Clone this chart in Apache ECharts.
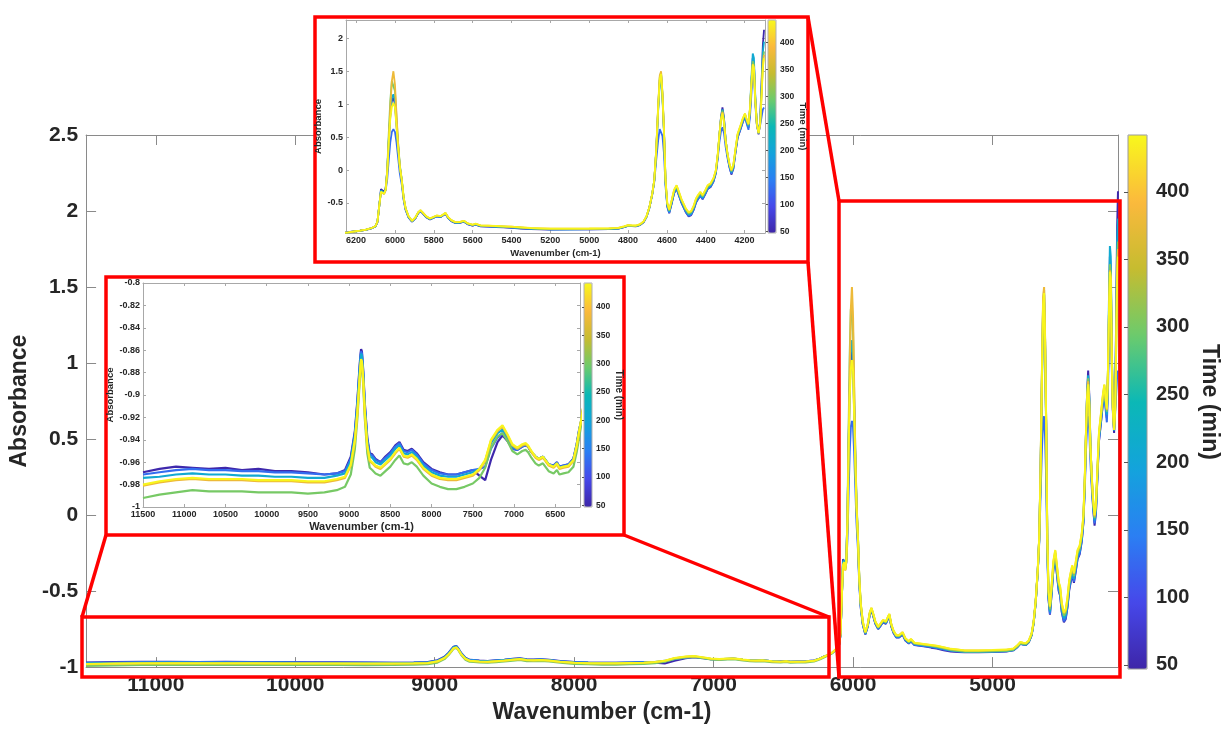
<!DOCTYPE html>
<html>
<head>
<meta charset="utf-8">
<script src="https://cdn.jsdelivr.net/npm/echarts@6/dist/echarts.min.js"></script>
<style>
  html, body { margin: 0; padding: 0; background: #fff; }
  #chart { width: 1223px; height: 729px; }
</style>
</head>
<body>
<div id="chart"></div>
<script>
// Wavenumber grid (cm-1), shared by every spectrum
const wavenumber = [
  11500, 11300, 11100, 10900, 10700, 10500, 10300, 10100, 9900, 9700,
  9500, 9300, 9150, 9050, 8980, 8930, 8900, 8880, 8865, 8855,
  8845, 8830, 8810, 8780, 8750, 8720, 8680, 8620, 8560, 8500,
  8440, 8390, 8340, 8290, 8240, 8180, 8100, 8000, 7900, 7800,
  7700, 7600, 7500, 7420, 7350, 7280, 7200, 7140, 7080, 7020,
  6960, 6900, 6860, 6830, 6790, 6740, 6700, 6650, 6580, 6520,
  6480, 6450, 6400, 6340, 6280, 6240, 6210,
  6180, 6150, 6120, 6100, 6090, 6080, 6072, 6064, 6056, 6048,
  6040, 6032, 6024, 6016, 6008, 6000, 5992, 5984, 5975, 5965,
  5955, 5945, 5930, 5912, 5895, 5880, 5868, 5855, 5840, 5820,
  5800, 5785, 5765, 5740, 5725, 5710, 5690, 5670, 5645, 5625,
  5600, 5585, 5560, 5520, 5480, 5440, 5400, 5350, 5300, 5250,
  5200, 5100, 5000, 4900, 4850, 4820, 4800, 4780, 4760, 4740,
  4720, 4705, 4690, 4675, 4665, 4655, 4645, 4637, 4630, 4623,
  4615, 4607, 4598, 4588, 4575, 4563, 4550, 4538, 4525, 4515,
  4503, 4488, 4475, 4462, 4450, 4440, 4428, 4416, 4402, 4390,
  4375, 4360, 4348, 4338, 4330, 4322, 4314, 4306, 4298, 4288,
  4278, 4268, 4258, 4248, 4236, 4222, 4210, 4198, 4188, 4180,
  4172, 4165, 4158, 4152, 4145, 4137, 4128, 4120, 4113, 4106,
  4100
];

// Absorbance spectra, one per acquisition time
const absorbance_t50 = [
  -0.969, -0.966, -0.964, -0.965, -0.966, -0.965, -0.967, -0.966, -0.968, -0.968,
  -0.969, -0.971, -0.970, -0.967, -0.955, -0.932, -0.905, -0.882, -0.866, -0.859,
  -0.861, -0.877, -0.907, -0.938, -0.952, -0.953, -0.957, -0.960, -0.955, -0.951,
  -0.945, -0.942, -0.949, -0.950, -0.948, -0.952, -0.960, -0.966, -0.969, -0.971,
  -0.971, -0.969, -0.967, -0.972, -0.976, -0.958, -0.942, -0.936, -0.941, -0.948,
  -0.949, -0.946, -0.945, -0.946, -0.951, -0.955, -0.957, -0.955, -0.962, -0.963,
  -0.960, -0.964, -0.963, -0.962, -0.957, -0.944, -0.931,
  -0.922, -0.908, -0.884, -0.856, -0.790, -0.520, -0.290, -0.280, -0.330, -0.280,
  -0.020, 0.420, 0.820, 1.050, 1.100, 1.000, 0.680, 0.360, 0.040, -0.170,
  -0.440, -0.600, -0.720, -0.785, -0.735, -0.655, -0.625, -0.665, -0.715, -0.750,
  -0.725, -0.705, -0.715, -0.665, -0.735, -0.775, -0.805, -0.805, -0.785, -0.825,
  -0.845, -0.830, -0.855, -0.860, -0.865, -0.872, -0.878, -0.890, -0.898, -0.900,
  -0.903, -0.902, -0.900, -0.897, -0.890, -0.867, -0.847, -0.852, -0.854, -0.837,
  -0.792, -0.712, -0.572, -0.362, -0.160, 0.280, 0.930, 1.360, 1.450, 1.140,
  0.580, -0.190, -0.550, -0.655, -0.505, -0.355, -0.285, -0.390, -0.500, -0.530,
  -0.640, -0.705, -0.685, -0.605, -0.495, -0.445, -0.395, -0.445, -0.365, -0.290,
  -0.258, -0.175, -0.050, 0.210, 0.510, 0.790, 0.950, 0.790, 0.470, 0.220,
  0.050, -0.070, 0.015, 0.240, 0.490, 0.610, 0.720, 0.820, 0.710, 0.640,
  0.900, 1.300, 1.700, 1.620, 1.080, 0.700, 0.540, 0.750, 1.300, 1.900,
  2.130
];
const absorbance_t130 = [
  -0.971, -0.969, -0.967, -0.966, -0.967, -0.967, -0.968, -0.968, -0.969, -0.969,
  -0.970, -0.971, -0.970, -0.968, -0.957, -0.934, -0.907, -0.884, -0.868, -0.861,
  -0.863, -0.879, -0.909, -0.940, -0.953, -0.954, -0.958, -0.960, -0.956, -0.952,
  -0.946, -0.943, -0.950, -0.951, -0.949, -0.953, -0.961, -0.967, -0.970, -0.971,
  -0.971, -0.969, -0.967, -0.966, -0.964, -0.948, -0.938, -0.934, -0.940, -0.948,
  -0.949, -0.946, -0.945, -0.946, -0.951, -0.955, -0.957, -0.955, -0.962, -0.963,
  -0.960, -0.964, -0.963, -0.962, -0.957, -0.944, -0.931,
  -0.921, -0.907, -0.883, -0.854, -0.786, -0.525, -0.320, -0.300, -0.350, -0.310,
  -0.150, 0.150, 0.420, 0.580, 0.620, 0.580, 0.420, 0.200, -0.050, -0.220,
  -0.460, -0.610, -0.720, -0.783, -0.733, -0.653, -0.623, -0.663, -0.713, -0.748,
  -0.723, -0.703, -0.713, -0.663, -0.733, -0.773, -0.803, -0.803, -0.783, -0.823,
  -0.843, -0.828, -0.853, -0.858, -0.863, -0.868, -0.874, -0.884, -0.893, -0.897,
  -0.901, -0.901, -0.899, -0.896, -0.889, -0.866, -0.846, -0.851, -0.853, -0.836,
  -0.791, -0.711, -0.571, -0.361, -0.180, 0.150, 0.450, 0.620, 0.650, 0.520,
  0.250, -0.250, -0.560, -0.650, -0.500, -0.350, -0.280, -0.385, -0.495, -0.525,
  -0.635, -0.698, -0.678, -0.598, -0.488, -0.438, -0.388, -0.438, -0.358, -0.284,
  -0.252, -0.170, -0.046, 0.180, 0.420, 0.580, 0.650, 0.560, 0.360, 0.180,
  0.040, -0.055, 0.025, 0.245, 0.495, 0.615, 0.725, 0.800, 0.690, 0.610,
  0.820, 1.150, 1.550, 1.480, 1.000, 0.680, 0.560, 0.680, 0.800, 0.920,
  0.950
];
const absorbance_t210 = [
  -0.974, -0.973, -0.971, -0.970, -0.971, -0.971, -0.972, -0.972, -0.973, -0.973,
  -0.974, -0.974, -0.972, -0.970, -0.959, -0.936, -0.909, -0.886, -0.870, -0.863,
  -0.865, -0.881, -0.911, -0.942, -0.955, -0.956, -0.960, -0.962, -0.958, -0.954,
  -0.948, -0.945, -0.952, -0.953, -0.951, -0.955, -0.963, -0.969, -0.972, -0.973,
  -0.973, -0.971, -0.969, -0.966, -0.959, -0.943, -0.934, -0.931, -0.938, -0.946,
  -0.948, -0.945, -0.944, -0.946, -0.951, -0.955, -0.957, -0.955, -0.962, -0.964,
  -0.961, -0.965, -0.964, -0.963, -0.958, -0.945, -0.932,
  -0.921, -0.906, -0.882, -0.853, -0.784, -0.522, -0.310, -0.295, -0.345, -0.290,
  -0.030, 0.450, 0.850, 1.100, 1.150, 1.050, 0.720, 0.380, 0.060, -0.150,
  -0.430, -0.590, -0.712, -0.778, -0.728, -0.648, -0.618, -0.658, -0.708, -0.743,
  -0.718, -0.698, -0.708, -0.658, -0.728, -0.768, -0.798, -0.798, -0.778, -0.818,
  -0.838, -0.823, -0.848, -0.853, -0.858, -0.863, -0.869, -0.879, -0.889, -0.894,
  -0.899, -0.899, -0.897, -0.894, -0.887, -0.864, -0.844, -0.849, -0.851, -0.834,
  -0.789, -0.709, -0.569, -0.359, -0.160, 0.280, 0.900, 1.320, 1.400, 1.100,
  0.560, -0.180, -0.535, -0.635, -0.485, -0.335, -0.265, -0.367, -0.477, -0.507,
  -0.617, -0.679, -0.659, -0.579, -0.469, -0.419, -0.369, -0.419, -0.339, -0.266,
  -0.235, -0.153, -0.030, 0.225, 0.515, 0.780, 0.920, 0.770, 0.470, 0.230,
  0.065, -0.035, 0.045, 0.265, 0.515, 0.635, 0.745, 0.835, 0.725, 0.660,
  0.930, 1.400, 1.770, 1.700, 1.120, 0.720, 0.555, 0.730, 1.250, 1.800,
  1.950
];
const absorbance_t300 = [
  -0.992, -0.989, -0.987, -0.985, -0.986, -0.986, -0.986, -0.987, -0.987, -0.987,
  -0.988, -0.987, -0.985, -0.982, -0.971, -0.948, -0.921, -0.898, -0.880, -0.872,
  -0.874, -0.890, -0.921, -0.952, -0.965, -0.967, -0.970, -0.972, -0.968, -0.964,
  -0.958, -0.954, -0.961, -0.962, -0.960, -0.964, -0.972, -0.979, -0.982, -0.984,
  -0.984, -0.982, -0.979, -0.974, -0.965, -0.947, -0.937, -0.934, -0.941, -0.950,
  -0.953, -0.950, -0.949, -0.951, -0.956, -0.961, -0.963, -0.961, -0.968, -0.970,
  -0.967, -0.971, -0.970, -0.969, -0.964, -0.951, -0.938,
  -0.924, -0.909, -0.884, -0.855, -0.785, -0.525, -0.330, -0.310, -0.360, -0.300,
  0.000, 0.550, 1.050, 1.350, 1.380, 1.200, 0.800, 0.420, 0.080, -0.140,
  -0.420, -0.585, -0.708, -0.775, -0.725, -0.645, -0.615, -0.655, -0.705, -0.740,
  -0.715, -0.695, -0.705, -0.655, -0.725, -0.765, -0.795, -0.795, -0.775, -0.815,
  -0.835, -0.820, -0.845, -0.850, -0.855, -0.860, -0.866, -0.876, -0.887, -0.893,
  -0.898, -0.898, -0.896, -0.893, -0.886, -0.863, -0.843, -0.848, -0.850, -0.833,
  -0.788, -0.708, -0.568, -0.358, -0.155, 0.310, 0.960, 1.400, 1.480, 1.160,
  0.600, -0.160, -0.520, -0.620, -0.470, -0.320, -0.250, -0.350, -0.460, -0.490,
  -0.600, -0.662, -0.642, -0.562, -0.452, -0.402, -0.352, -0.402, -0.322, -0.250,
  -0.220, -0.139, -0.017, 0.235, 0.520, 0.775, 0.900, 0.750, 0.465, 0.240,
  0.080, -0.020, 0.060, 0.280, 0.530, 0.650, 0.760, 0.845, 0.740, 0.680,
  0.940, 1.330, 1.650, 1.600, 1.070, 0.705, 0.560, 0.710, 1.150, 1.650,
  1.800
];
const absorbance_t380 = [
  -0.981, -0.978, -0.976, -0.975, -0.976, -0.976, -0.976, -0.977, -0.977, -0.977,
  -0.978, -0.978, -0.976, -0.974, -0.963, -0.941, -0.916, -0.894, -0.877, -0.869,
  -0.871, -0.886, -0.916, -0.946, -0.959, -0.961, -0.964, -0.966, -0.962, -0.958,
  -0.952, -0.948, -0.955, -0.956, -0.954, -0.958, -0.966, -0.972, -0.975, -0.976,
  -0.976, -0.974, -0.972, -0.967, -0.959, -0.941, -0.932, -0.928, -0.936, -0.945,
  -0.948, -0.945, -0.944, -0.946, -0.951, -0.956, -0.958, -0.956, -0.963, -0.965,
  -0.962, -0.966, -0.965, -0.964, -0.959, -0.946, -0.933,
  -0.920, -0.905, -0.880, -0.850, -0.780, -0.520, -0.335, -0.315, -0.365, -0.305,
  -0.040, 0.450, 0.950, 1.350, 1.500, 1.300, 0.850, 0.420, 0.060, -0.150,
  -0.420, -0.580, -0.702, -0.771, -0.721, -0.641, -0.611, -0.651, -0.701, -0.736,
  -0.711, -0.691, -0.701, -0.651, -0.721, -0.761, -0.791, -0.791, -0.771, -0.811,
  -0.831, -0.816, -0.841, -0.846, -0.851, -0.856, -0.861, -0.871, -0.881, -0.886,
  -0.891, -0.891, -0.889, -0.886, -0.879, -0.856, -0.836, -0.841, -0.843, -0.826,
  -0.781, -0.701, -0.561, -0.351, -0.150, 0.310, 0.980, 1.430, 1.500, 1.180,
  0.610, -0.150, -0.505, -0.605, -0.455, -0.305, -0.235, -0.335, -0.445, -0.475,
  -0.585, -0.646, -0.626, -0.546, -0.436, -0.386, -0.336, -0.386, -0.306, -0.236,
  -0.206, -0.126, -0.005, 0.245, 0.525, 0.770, 0.880, 0.735, 0.455, 0.245,
  0.093, -0.008, 0.073, 0.292, 0.543, 0.663, 0.773, 0.855, 0.752, 0.692,
  0.945, 1.310, 1.610, 1.560, 1.055, 0.700, 0.560, 0.705, 1.120, 1.600,
  1.750
];
const absorbance_t440 = [
  -0.980, -0.977, -0.975, -0.974, -0.975, -0.975, -0.975, -0.976, -0.976, -0.976,
  -0.977, -0.977, -0.975, -0.973, -0.962, -0.940, -0.915, -0.893, -0.876, -0.868,
  -0.870, -0.885, -0.915, -0.945, -0.958, -0.960, -0.963, -0.965, -0.961, -0.957,
  -0.951, -0.947, -0.954, -0.955, -0.953, -0.957, -0.965, -0.971, -0.974, -0.975,
  -0.975, -0.973, -0.971, -0.966, -0.958, -0.940, -0.931, -0.927, -0.935, -0.944,
  -0.947, -0.944, -0.943, -0.945, -0.950, -0.955, -0.957, -0.955, -0.962, -0.964,
  -0.961, -0.965, -0.964, -0.963, -0.958, -0.945, -0.932,
  -0.920, -0.905, -0.880, -0.850, -0.780, -0.520, -0.330, -0.310, -0.360, -0.300,
  -0.050, 0.400, 0.780, 0.960, 1.020, 0.950, 0.650, 0.350, 0.050, -0.150,
  -0.420, -0.580, -0.700, -0.770, -0.720, -0.640, -0.610, -0.650, -0.700, -0.735,
  -0.710, -0.690, -0.700, -0.650, -0.720, -0.760, -0.790, -0.790, -0.770, -0.810,
  -0.830, -0.815, -0.840, -0.845, -0.850, -0.855, -0.860, -0.870, -0.880, -0.885,
  -0.890, -0.890, -0.888, -0.885, -0.878, -0.855, -0.835, -0.840, -0.842, -0.825,
  -0.780, -0.700, -0.560, -0.350, -0.150, 0.300, 0.950, 1.380, 1.460, 1.150,
  0.600, -0.150, -0.500, -0.600, -0.450, -0.300, -0.230, -0.330, -0.440, -0.470,
  -0.580, -0.640, -0.620, -0.540, -0.430, -0.380, -0.330, -0.380, -0.300, -0.230,
  -0.200, -0.120, 0.000, 0.250, 0.530, 0.760, 0.860, 0.720, 0.450, 0.250,
  0.100, 0.000, 0.080, 0.300, 0.550, 0.670, 0.780, 0.860, 0.760, 0.700,
  0.950, 1.300, 1.600, 1.550, 1.050, 0.700, 0.560, 0.700, 1.100, 1.550,
  1.700
];

const times = [50, 130, 210, 300, 380, 440];
const spectra = [absorbance_t50, absorbance_t130, absorbance_t210,
                 absorbance_t300, absorbance_t380, absorbance_t440];
const timeRange = [47, 442];

// Tick labels
const mainXTicks = [11000, 10000, 9000, 8000, 7000, 6000, 5000];
const nirXTicks = [11500, 11000, 10500, 10000, 9500, 9000, 8500, 8000, 7500, 7000, 6500];
const midXTicks = [6200, 6000, 5800, 5600, 5400, 5200, 5000, 4800, 4600, 4400, 4200];
const midYTicks = [-0.5, 0, 0.5, 1, 1.5, 2];
const timeTicks = [50, 100, 150, 200, 250, 300, 350, 400];

// Parula-like colour scale for acquisition time
const parula = ['#3e26a8', '#4648ea', '#2b7ff3', '#13a3dc', '#0bb8b6',
                '#6ccb6c', '#c6bc30', '#fbb93c', '#f8f81c'];

function hexToRgb(h) {
  return [parseInt(h.slice(1, 3), 16), parseInt(h.slice(3, 5), 16), parseInt(h.slice(5, 7), 16)];
}
function timeColor(t) {
  const f = (t - timeRange[0]) / (timeRange[1] - timeRange[0]) * (parula.length - 1);
  const i = Math.max(0, Math.min(Math.floor(f), parula.length - 2));
  const r = Math.max(0, Math.min(1, f - i));
  const a = hexToRgb(parula[i]), b = hexToRgb(parula[i + 1]);
  const c = a.map((v, k) => Math.round(v + (b[k] - v) * r));
  return 'rgb(' + c.join(',') + ')';
}

const FONT = '"Liberation Sans", Arial, sans-serif';
const TEXT = '#262626';
const plainNumber = v => String(v);

function boxAxis(opts) {
  // one side of a boxed plot frame
  const o = {
    gridIndex: opts.grid,
    type: 'value',
    min: opts.min,
    max: opts.max,
    inverse: !!opts.inverse,
    position: opts.position,
    z: opts.z || 0,
    splitLine: { show: false },
    axisLine: { show: true, onZero: false, lineStyle: { color: opts.lineColor, width: 1 } },
    axisTick: { show: true, inside: true, length: opts.tickLen, lineStyle: { color: opts.lineColor, width: 1 } },
    axisLabel: { show: !!opts.labels }
  };
  if (opts.interval) o.interval = opts.interval;
  if (opts.ticks) o.axisTick.customValues = opts.ticks;
  if (opts.labels) {
    o.axisLabel = {
      show: true, fontFamily: FONT, fontWeight: 'bold', fontSize: opts.fontSize,
      color: TEXT, margin: opts.margin, formatter: plainNumber
    };
    if (opts.ticks) o.axisLabel.customValues = opts.ticks;
  }
  if (opts.name) {
    o.name = opts.name;
    o.nameLocation = 'middle';
    o.nameGap = opts.nameGap;
    if (opts.nameRotate != null) o.nameRotate = opts.nameRotate;
    o.nameTextStyle = { fontFamily: FONT, fontWeight: 'bold', fontSize: opts.nameSize, color: TEXT };
  }
  return o;
}

// Grids: 0 main, 1 mid-IR inset, 2 NIR inset, 3-5 colour bars
const grids = [
  { left: 83, top: 135, width: 1035, height: 534 },
  { left: 346, top: 20, width: 419, height: 213, z: 3 },
  { left: 143, top: 283, width: 437, height: 224, z: 3 },
  { left: 1128, top: 135, width: 19, height: 534, show: true, borderColor: '#9a9a9a', borderWidth: 1, backgroundColor: 'transparent', z: 6 },
  { left: 768, top: 20, width: 8, height: 213, show: true, borderColor: '#b0b0b0', borderWidth: 1, backgroundColor: 'transparent', z: 6 },
  { left: 584, top: 283, width: 8, height: 224, show: true, borderColor: '#b0b0b0', borderWidth: 1, backgroundColor: 'transparent', z: 6 }
];

const MAIN_LINE = '#8a8a8a';
const INSET_LINE = '#a8a8a8';

const xAxes = [
  boxAxis({ grid: 0, min: 4100, max: 11500, inverse: true, position: 'bottom', lineColor: MAIN_LINE, tickLen: 10,
            ticks: mainXTicks, labels: true, fontSize: 21, margin: 8,
            name: 'Wavenumber (cm-1)', nameGap: 33, nameSize: 23 }),
  boxAxis({ grid: 0, min: 4100, max: 11500, inverse: true, position: 'top', lineColor: MAIN_LINE, tickLen: 10, ticks: mainXTicks }),
  boxAxis({ grid: 1, min: 4095, max: 6252, inverse: true, position: 'bottom', lineColor: INSET_LINE, tickLen: 3, z: 3,
            ticks: midXTicks, labels: true, fontSize: 9, margin: 3,
            name: 'Wavenumber (cm-1)', nameGap: 15, nameSize: 9.5 }),
  boxAxis({ grid: 1, min: 4095, max: 6252, inverse: true, position: 'top', lineColor: INSET_LINE, tickLen: 3, z: 3, ticks: midXTicks }),
  boxAxis({ grid: 2, min: 6200, max: 11500, inverse: true, position: 'bottom', lineColor: INSET_LINE, tickLen: 3, z: 3,
            ticks: nirXTicks, labels: true, fontSize: 9, margin: 3,
            name: 'Wavenumber (cm-1)', nameGap: 14, nameSize: 11 }),
  boxAxis({ grid: 2, min: 6200, max: 11500, inverse: true, position: 'top', lineColor: INSET_LINE, tickLen: 3, z: 3, ticks: nirXTicks }),
  { gridIndex: 3, type: 'value', show: false, min: 0, max: 1 },
  { gridIndex: 4, type: 'value', show: false, min: 0, max: 1 },
  { gridIndex: 5, type: 'value', show: false, min: 0, max: 1 }
];

const yAxes = [
  boxAxis({ grid: 0, min: -1, max: 2.5, interval: 0.5, position: 'left', lineColor: MAIN_LINE, tickLen: 10,
            labels: true, fontSize: 21, margin: 8,
            name: 'Absorbance', nameGap: 35, nameRotate: 90, nameSize: 23 }),
  boxAxis({ grid: 0, min: -1, max: 2.5, interval: 0.5, position: 'right', lineColor: MAIN_LINE, tickLen: 10 }),
  boxAxis({ grid: 1, min: -0.956, max: 2.278, position: 'left', lineColor: INSET_LINE, tickLen: 3, z: 3,
            ticks: midYTicks, labels: true, fontSize: 9, margin: 3,
            name: 'Absorbance', nameGap: 20, nameRotate: 90, nameSize: 9.5 }),
  boxAxis({ grid: 1, min: -0.956, max: 2.278, position: 'right', lineColor: INSET_LINE, tickLen: 3, z: 3, ticks: midYTicks }),
  boxAxis({ grid: 2, min: -1, max: -0.8, interval: 0.02, position: 'left', lineColor: INSET_LINE, tickLen: 3, z: 3,
            labels: true, fontSize: 9, margin: 3,
            name: 'Absorbance', nameGap: 24, nameRotate: 90, nameSize: 9.5 }),
  boxAxis({ grid: 2, min: -1, max: -0.8, interval: 0.02, position: 'right', lineColor: INSET_LINE, tickLen: 3, z: 3 }),
  // colour bar scales
  {
    gridIndex: 3, type: 'value', min: timeRange[0], max: timeRange[1], position: 'right', z: 7,
    splitLine: { show: false },
    axisLine: { show: false },
    axisTick: { show: true, inside: true, length: 4, customValues: timeTicks, lineStyle: { color: '#555' } },
    axisLabel: { customValues: timeTicks, fontFamily: FONT, fontWeight: 'bold', fontSize: 20, color: TEXT, margin: 9 },
    name: 'Time (min)', nameLocation: 'middle', nameRotate: -90, nameGap: 51,
    nameTextStyle: { fontFamily: FONT, fontWeight: 'bold', fontSize: 23, color: TEXT }
  },
  {
    gridIndex: 4, type: 'value', min: timeRange[0], max: timeRange[1], position: 'right', z: 7,
    splitLine: { show: false },
    axisLine: { show: false },
    axisTick: { show: true, inside: true, length: 2, customValues: timeTicks, lineStyle: { color: '#555' } },
    axisLabel: { customValues: timeTicks, fontFamily: FONT, fontWeight: 'bold', fontSize: 8.5, color: TEXT, margin: 4 },
    name: 'Time (min)', nameLocation: 'middle', nameRotate: -90, nameGap: 19,
    nameTextStyle: { fontFamily: FONT, fontWeight: 'bold', fontSize: 9.5, color: TEXT }
  },
  {
    gridIndex: 5, type: 'value', min: timeRange[0], max: timeRange[1], position: 'right', z: 7,
    splitLine: { show: false },
    axisLine: { show: false },
    axisTick: { show: true, inside: true, length: 2, customValues: timeTicks, lineStyle: { color: '#555' } },
    axisLabel: { customValues: timeTicks, fontFamily: FONT, fontWeight: 'bold', fontSize: 8.5, color: TEXT, margin: 4 },
    name: 'Time (min)', nameLocation: 'middle', nameRotate: -90, nameGap: 17,
    nameTextStyle: { fontFamily: FONT, fontWeight: 'bold', fontSize: 10, color: TEXT }
  }
];

// Each spectrum is drawn in the main plot and in both zoomed insets
const panels = [
  { x: 0, y: 0, width: 2, z: 2 },
  { x: 2, y: 2, width: 1.8, z: 4 },
  { x: 4, y: 4, width: 2.2, z: 4 }
];
const series = [];
panels.forEach(p => {
  times.forEach((t, k) => {
    series.push({
      type: 'line',
      name: t + ' min',
      xAxisIndex: p.x,
      yAxisIndex: p.y,
      data: wavenumber.map((w, i) => [w, spectra[k][i]]),
      showSymbol: false,
      symbol: 'none',
      clip: true,
      silent: true,
      z: p.z,
      lineStyle: { color: timeColor(t), width: p.width }
    });
  });
});

function colourBar(left, top, w, h) {
  return {
    type: 'continuous',
    seriesIndex: [],
    min: timeRange[0],
    max: timeRange[1],
    calculable: false,
    hoverLink: false,
    orient: 'vertical',
    left: left, top: top,
    itemWidth: w, itemHeight: h,
    padding: 0,
    text: null,
    inRange: { color: parula }
  };
}

const RED = '#ff0000';
const RW = 3.5;
const graphic = [
  // white-backed inset frames
  { type: 'rect', z: 1, shape: { x: 315, y: 17, width: 493, height: 245 }, style: { fill: '#fff', stroke: RED, lineWidth: RW } },
  { type: 'rect', z: 1, shape: { x: 106, y: 277, width: 518, height: 258 }, style: { fill: '#fff', stroke: RED, lineWidth: RW } },
  // zoom regions in the main plot
  { type: 'rect', z: 10, shape: { x: 82, y: 617, width: 747, height: 60 }, style: { fill: 'none', stroke: RED, lineWidth: RW } },
  { type: 'rect', z: 10, shape: { x: 839, y: 201, width: 281, height: 476 }, style: { fill: 'none', stroke: RED, lineWidth: RW } },
  // connectors
  { type: 'line', z: 10, shape: { x1: 106, y1: 535, x2: 82, y2: 617 }, style: { stroke: RED, lineWidth: RW } },
  { type: 'line', z: 10, shape: { x1: 624, y1: 535, x2: 829, y2: 617 }, style: { stroke: RED, lineWidth: RW } },
  { type: 'line', z: 10, shape: { x1: 808, y1: 17, x2: 839, y2: 201 }, style: { stroke: RED, lineWidth: RW } },
  { type: 'line', z: 10, shape: { x1: 808, y1: 262, x2: 839, y2: 677 }, style: { stroke: RED, lineWidth: RW } }
];

const chart = echarts.init(document.getElementById('chart'), null, { renderer: 'canvas' });
chart.setOption({
  animation: false,
  backgroundColor: '#fff',
  grid: grids,
  xAxis: xAxes,
  yAxis: yAxes,
  visualMap: [
    colourBar(1128, 135, 19, 534),
    colourBar(768, 20, 8, 213),
    colourBar(584, 283, 8, 224)
  ],
  graphic: graphic,
  series: series
});
</script>
</body>
</html>
